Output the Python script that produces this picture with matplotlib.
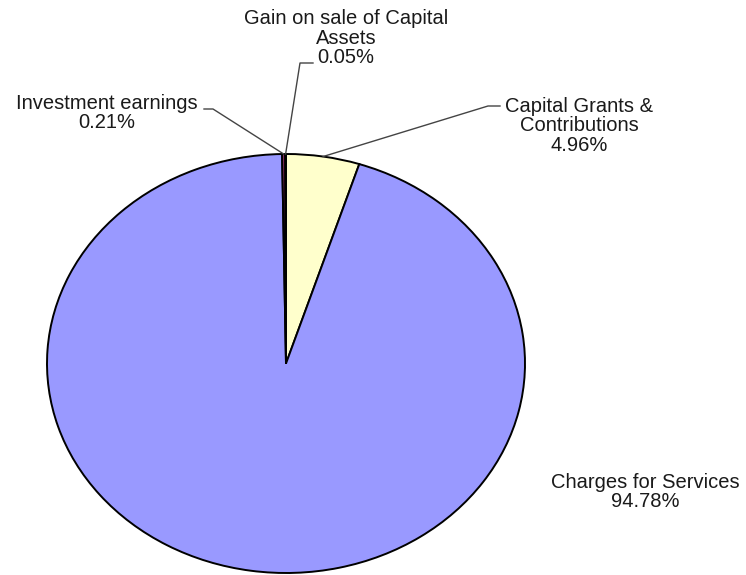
import numpy as np
import matplotlib
matplotlib.use("Agg")
import matplotlib.pyplot as plt

# revenue sources, in drawing order (clockwise from 12 o'clock)
labels = ["Capital Grants &\nContributions", "Charges for Services",
          "Investment earnings", "Gain on sale of Capital\nAssets"]
shares = [4.96, 94.78, 0.21, 0.05]
colors = ["#FFFFCC", "#9999FF", "#993366", "#660066"]

W, H = 746, 575
# pie bounding box in pixels (left, right, top, bottom) - the original is stretched
PL, PR, PT, PB = 47, 525, 154, 573
CX, CY = (PL + PR) / 2, (PT + PB) / 2
RX, RY = (PR - PL) / 2, (PB - PT) / 2


def px2data(px, py):
    return (px - CX) / RX, (CY - py) / RY


plt.rcParams['font.family'] = ['Liberation Sans', 'DejaVu Sans']
fig = plt.figure(figsize=(W / 100, H / 100), dpi=100)
ax = fig.add_axes([PL / W, (H - PB) / H, (PR - PL) / W, (PB - PT) / H])

wedges, _ = ax.pie(shares, colors=colors, startangle=90, counterclock=False,
                   wedgeprops=dict(edgecolor="black", linewidth=1.4))
for w in wedges:
    w.set_clip_on(False)
ax.set_aspect('auto')
ax.set_xlim(-1, 1)
ax.set_ylim(-1, 1)
ax.axis('off')

# label layout: elbow and end of the leader, text center (all in pixels)
layout = {
    0: dict(elbow=(488, 106), end=(500, 106), text=(579, 126)),
    2: dict(elbow=(213, 109), end=(204, 109), text=(107, 113)),
    3: dict(elbow=(300, 63), end=(313, 63), text=(346, 38)),
}

txt_kw = dict(fontsize=14.5, color="#1a1a1a", ha="center", va="center",
              linespacing=1.06)

for i, w in enumerate(wedges):
    pct = f"{shares[i]:.2f}%"
    if i == 1:
        tx, ty = 645, 492
        fig.text(tx / W, 1 - ty / H, f"{labels[i]}\n{pct}", **txt_kw)
        continue
    ang = np.deg2rad((w.theta1 + w.theta2) / 2)
    ax_, ay_ = np.cos(ang), np.sin(ang)
    lay = layout[i]
    ex, ey = px2data(*lay["elbow"])
    nx, ny = px2data(*lay["end"])
    ax.plot([ax_, ex, nx], [ay_, ey, ny], color="#444444", lw=1.0,
            clip_on=False, zorder=5)
    tx, ty = lay["text"]
    fig.text(tx / W, 1 - ty / H, f"{labels[i]}\n{pct}", **txt_kw)

fig.savefig("out.png", dpi=100, facecolor="white")
